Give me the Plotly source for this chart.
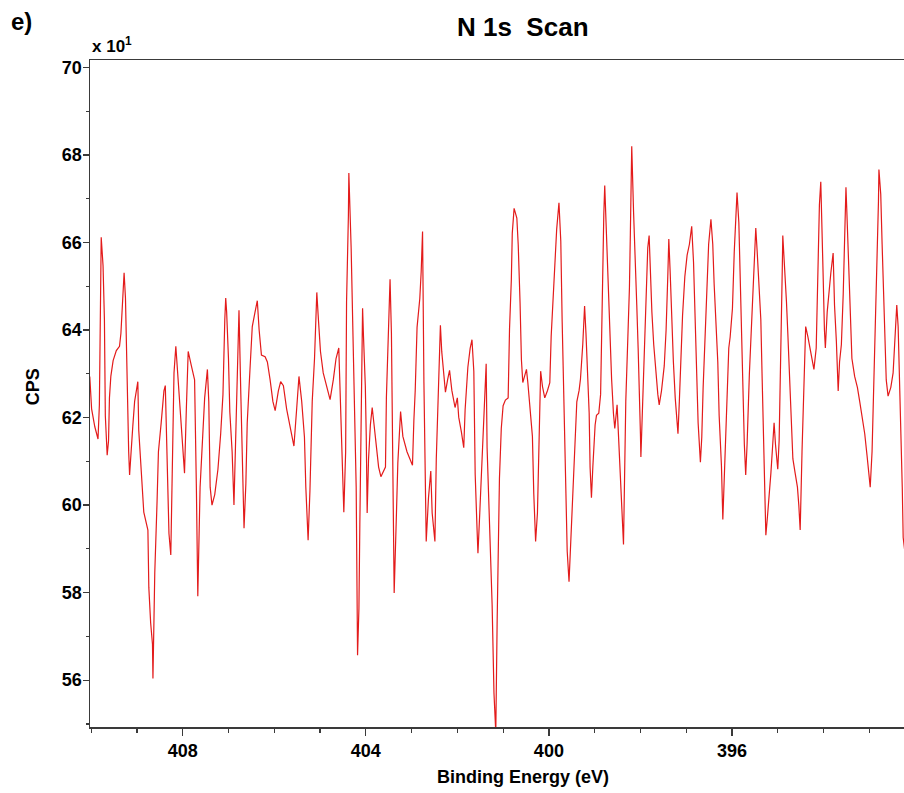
import plotly.graph_objects as go

# Binding energy (eV) and counts (CPS, in units of x10^1)
binding_energy = [
    410.03, 409.99, 409.92, 409.85, 409.82, 409.81, 409.78, 409.74, 409.71, 409.69,
    409.65, 409.62, 409.60, 409.57, 409.52, 409.45, 409.38, 409.35, 409.32, 409.28,
    409.25, 409.23, 409.21, 409.18, 409.16, 409.12, 409.09, 409.05, 408.98, 408.96,
    408.92, 408.85, 408.76, 408.74, 408.70, 408.66, 408.65, 408.61, 408.56, 408.53,
    408.47, 408.41, 408.38, 408.34, 408.30, 408.26, 408.23, 408.19, 408.15, 408.10,
    408.04, 407.99, 407.96, 407.92, 407.88, 407.81, 407.74, 407.70, 407.67, 407.62,
    407.57, 407.52, 407.46, 407.43, 407.40, 407.36, 407.30, 407.23, 407.17, 407.12,
    407.08, 407.06, 407.04, 407.00, 406.97, 406.92, 406.88, 406.84, 406.80, 406.77,
    406.73, 406.70, 406.66, 406.62, 406.59, 406.53, 406.48, 406.42, 406.37, 406.33,
    406.28, 406.20, 406.15, 406.09, 406.03, 405.98, 405.91, 405.86, 405.80, 405.73,
    405.66, 405.57, 405.51, 405.46, 405.40, 405.34, 405.31, 405.26, 405.22, 405.17,
    405.12, 405.07, 405.04, 404.99, 404.93, 404.85, 404.78, 404.71, 404.65, 404.59,
    404.55, 404.51, 404.48, 404.44, 404.42, 404.38, 404.37, 404.32, 404.27, 404.21,
    404.18, 404.15, 404.13, 404.10, 404.07, 404.05, 404.01, 403.99, 403.97, 403.94,
    403.90, 403.86, 403.83, 403.78, 403.72, 403.67, 403.57, 403.55, 403.52, 403.47,
    403.44, 403.41, 403.39, 403.38, 403.33, 403.30, 403.24, 403.19, 403.10, 402.98,
    402.95, 402.92, 402.88, 402.82, 402.79, 402.76, 402.73, 402.70, 402.68, 402.63,
    402.58, 402.55, 402.49, 402.46, 402.42, 402.39, 402.37, 402.34, 402.30, 402.26,
    402.21, 402.17, 402.12, 402.05, 402.00, 401.97, 401.91, 401.86, 401.83, 401.77,
    401.72, 401.68, 401.64, 401.61, 401.57, 401.55, 401.51, 401.46, 401.42, 401.39,
    401.37, 401.35, 401.31, 401.27, 401.24, 401.20, 401.16, 401.13, 401.11, 401.08,
    401.04, 401.00, 400.95, 400.89, 400.86, 400.82, 400.80, 400.76, 400.70, 400.67,
    400.63, 400.60, 400.57, 400.52, 400.49, 400.46, 400.41, 400.36, 400.33, 400.29,
    400.25, 400.22, 400.18, 400.14, 400.09, 400.03, 399.98, 399.95, 399.91, 399.87,
    399.83, 399.78, 399.74, 399.71, 399.67, 399.63, 399.60, 399.56, 399.51, 399.47,
    399.44, 399.39, 399.34, 399.31, 399.26, 399.22, 399.19, 399.16, 399.12, 399.10,
    399.07, 399.04, 398.99, 398.96, 398.91, 398.87, 398.83, 398.80, 398.78, 398.75,
    398.71, 398.67, 398.63, 398.59, 398.56, 398.51, 398.46, 398.42, 398.40, 398.37,
    398.34, 398.32, 398.28, 398.24, 398.22, 398.19, 398.15, 398.11, 398.08, 398.05,
    398.02, 398.00, 397.99, 397.95, 397.91, 397.88, 397.84, 397.81, 397.78, 397.75,
    397.71, 397.66, 397.62, 397.59, 397.54, 397.48, 397.44, 397.40, 397.38, 397.35,
    397.32, 397.28, 397.24, 397.20, 397.18, 397.15, 397.11, 397.08, 397.03, 396.98,
    396.93, 396.88, 396.84, 396.81, 396.77, 396.74, 396.69, 396.66, 396.63, 396.59,
    396.55, 396.51, 396.46, 396.42, 396.39, 396.35, 396.31, 396.28, 396.23, 396.20,
    396.15, 396.12, 396.07, 396.04, 395.99, 395.95, 395.91, 395.89, 395.85, 395.82,
    395.79, 395.76, 395.73, 395.70, 395.67, 395.62, 395.58, 395.54, 395.50, 395.48,
    395.45, 395.41, 395.37, 395.34, 395.31, 395.29, 395.26, 395.23, 395.19, 395.15,
    395.12, 395.08, 395.05, 395.00, 394.97, 394.94, 394.92, 394.90, 394.89, 394.85,
    394.81, 394.78, 394.74, 394.70, 394.67, 394.62, 394.57, 394.54, 394.51, 394.47,
    394.43, 394.41, 394.39, 394.34, 394.27, 394.21, 394.16, 394.14, 394.11, 394.09,
    394.06, 394.04, 394.01, 393.98, 393.96, 393.92, 393.89, 393.84, 393.79, 393.76,
    393.72, 393.68, 393.65, 393.61, 393.57, 393.54, 393.51, 393.49, 393.45, 393.41,
    393.38, 393.32, 393.26, 393.21, 393.16, 393.10, 393.05, 393.01, 392.98, 392.94,
    392.90, 392.87, 392.83, 392.80, 392.79, 392.75, 392.72, 392.69, 392.66, 392.63,
    392.59, 392.53, 392.48, 392.45, 392.42, 392.40, 392.37, 392.34, 392.30, 392.28,
    392.26, 392.22,
]

cps_x10 = [
    62.94, 62.20, 61.79, 61.51, 62.29, 63.84, 66.12, 65.47, 64.24, 62.04,
    61.14, 61.47, 62.45, 62.94, 63.30, 63.53, 63.63, 63.92, 64.49, 65.31,
    64.73, 63.59, 62.45, 61.22, 60.69, 61.22, 61.80, 62.37, 62.82, 61.71,
    60.98, 59.84, 59.43, 58.12, 57.31, 56.82, 56.04, 58.45, 60.08, 61.22,
    61.88, 62.61, 62.73, 61.30, 59.35, 58.86, 60.65, 63.02, 63.63, 62.86,
    61.88, 61.22, 60.73, 62.20, 63.51, 63.18, 62.86, 60.33, 57.92, 60.41,
    61.39, 62.45, 63.10, 62.37, 60.41, 60.00, 60.24, 60.82, 61.63, 62.53,
    64.24, 64.73, 64.41, 63.35, 62.12, 61.22, 60.00, 61.63, 63.67, 64.45,
    62.53, 61.30, 59.47, 60.49, 61.88, 63.10, 64.08, 64.41, 64.67, 64.00,
    63.43, 63.39, 63.27, 62.86, 62.37, 62.16, 62.61, 62.82, 62.73, 62.20,
    61.79, 61.35, 62.20, 62.94, 62.37, 61.55, 60.41, 59.20, 60.33, 62.37,
    63.35, 64.86, 64.33, 63.51, 63.02, 62.69, 62.41, 62.86, 63.35, 63.59,
    62.20, 61.22, 59.84, 61.22, 64.65, 66.61, 67.59, 65.88, 63.67, 60.41,
    56.57, 57.63, 59.56, 61.57, 64.50, 63.85, 62.71, 61.57, 59.82, 61.05,
    61.83, 62.23, 61.92, 61.40, 60.87, 60.65, 60.87, 62.45, 63.50, 65.16,
    63.93, 61.57, 59.21, 57.99, 59.82, 60.96, 62.14, 61.57, 61.22, 60.91,
    61.92, 62.62, 64.06, 64.72, 65.33, 66.25, 62.80, 60.43, 59.17, 60.17,
    60.78, 59.82, 59.17, 61.05, 62.27, 63.50, 64.11, 63.50, 62.97, 62.58,
    62.88, 63.08, 62.62, 62.23, 62.45, 62.01, 61.66, 61.31, 62.18, 63.15,
    63.58, 63.78, 63.06, 60.70, 59.47, 58.90, 59.82, 61.13, 62.18, 62.88,
    63.23, 61.31, 60.00, 58.86, 57.72, 55.71, 54.80, 57.37, 58.95, 60.61,
    61.75, 62.27, 62.40, 62.45, 64.02, 65.16, 66.21, 66.78, 66.56, 65.95,
    64.63, 63.32, 62.80, 62.97, 63.10, 62.80, 62.27, 61.57, 60.26, 59.17,
    59.82, 61.57, 63.06, 62.71, 62.45, 62.62, 62.80, 63.85, 64.63, 65.68,
    66.30, 66.91, 66.03, 64.20, 62.45, 60.26, 58.95, 58.25, 59.56, 60.26,
    61.40, 62.36, 62.62, 62.88, 63.67, 64.55, 63.93, 62.97, 62.10, 60.87,
    60.17, 60.87, 61.83, 62.05, 62.10, 62.53, 65.25, 66.65, 67.30, 66.39,
    65.60, 64.20, 62.88, 62.10, 61.75, 62.29, 61.22, 60.33, 59.59, 59.10,
    61.06, 62.37, 63.67, 64.98, 66.20, 68.20, 66.69, 65.63, 64.57, 63.59,
    62.61, 61.63, 61.10, 62.29, 63.67, 64.73, 65.88, 66.16, 65.14, 64.41,
    63.67, 62.94, 62.53, 62.29, 62.61, 63.18, 63.99, 65.31, 66.08, 65.31,
    64.24, 63.27, 62.45, 61.88, 61.63, 62.37, 63.51, 64.33, 65.22, 65.71,
    65.96, 66.37, 65.55, 64.33, 62.86, 61.88, 60.98, 61.55, 62.69, 63.92,
    65.14, 65.96, 66.53, 65.96, 65.06, 64.16, 63.27, 62.04, 60.90, 59.67,
    61.22, 62.45, 63.59, 63.84, 64.49, 65.80, 66.69, 67.14, 66.45, 65.06,
    63.51, 62.29, 61.39, 60.69, 61.39, 63.00, 64.00, 65.06, 65.88, 66.33,
    65.80, 65.14, 64.24, 62.86, 61.39, 60.00, 59.31, 59.67, 60.16, 60.73,
    61.22, 61.88, 61.39, 60.82, 61.47, 62.86, 64.16, 65.47, 66.16, 65.47,
    64.65, 63.92, 62.86, 61.80, 61.06, 60.73, 60.41, 60.00, 59.43, 61.22,
    62.45, 63.51, 64.08, 63.84, 63.43, 63.10, 63.59, 64.65, 65.80, 66.86,
    67.39, 66.69, 65.31, 64.00, 63.59, 64.41, 64.82, 65.31, 65.76, 64.57,
    63.75, 62.61, 63.27, 63.67, 64.82, 66.04, 67.26, 66.69, 65.31, 64.00,
    63.35, 62.94, 62.69, 62.37, 62.04, 61.63, 61.14, 60.73, 60.41, 61.22,
    62.69, 64.08, 65.55, 66.94, 67.67, 67.10, 65.96, 64.90, 63.84, 62.86,
    62.49, 62.69, 63.02, 63.67, 64.24, 64.57, 64.08, 63.02, 61.63, 60.41,
    59.26, 58.90,
]

x_range = [410.025, 392.242]
y_range = [54.93, 70.17]
x_major_ticks = [408, 404, 400, 396]
x_tick_labels = ["408", "404", "400", "396"]
y_major_ticks = [56, 58, 60, 62, 64, 66, 68, 70]
y_tick_labels = ["56", "58", "60", "62", "64", "66", "68", "70"]

FONT = "Liberation Sans, Arial, sans-serif"
AXIS_COLOR = "#3a3a3a"

fig = go.Figure()
fig.add_trace(go.Scatter(
    x=binding_energy, y=cps_x10, mode="lines",
    line=dict(color="#e31b1b", width=1.2),
    hoverinfo="skip", showlegend=False,
))

fig.update_layout(
    width=904, height=793,
    margin=dict(l=90, r=0, t=60, b=66),
    paper_bgcolor="white", plot_bgcolor="white",
    font=dict(family=FONT, color="black"),
    showlegend=False,
)

fig.update_xaxes(
    range=x_range, showgrid=False, zeroline=False,
    showline=True, linecolor=AXIS_COLOR, linewidth=1.5, mirror=True,
    tickmode="array", tickvals=x_major_ticks, ticktext=x_tick_labels,
    ticks="outside", ticklen=7, tickwidth=1.3, tickcolor=AXIS_COLOR,
    tickfont=dict(family=FONT, size=18, color="black", weight="bold"),
    minor=dict(dtick=1, tick0=396, ticks="outside", ticklen=4, tickwidth=1.2,
               tickcolor=AXIS_COLOR, showgrid=False),
)
fig.update_yaxes(
    range=y_range, showgrid=False, zeroline=False,
    showline=True, linecolor=AXIS_COLOR, linewidth=1.5, mirror=False,
    tickmode="array", tickvals=y_major_ticks, ticktext=y_tick_labels,
    ticks="outside", ticklen=6, tickwidth=1.3, tickcolor=AXIS_COLOR,
    ticklabelstandoff=-3,
    tickfont=dict(family=FONT, size=18, color="black", weight="bold"),
    minor=dict(dtick=1, tick0=0, ticks="outside", ticklen=3, tickwidth=1.2,
               tickcolor=AXIS_COLOR, showgrid=False),
)

annotations = [
    dict(text="<b>N 1s\u00a0\u00a0Scan</b>", x=0.532, y=1.0495, xanchor="center", yanchor="middle",
         font=dict(family=FONT, size=26, color="black")),
    dict(text="<b>e)</b>", x=-0.099, y=1.057, xanchor="left", yanchor="middle",
         font=dict(family=FONT, size=24, color="black")),
    dict(text="<b>x 10<sup>1</sup></b>", x=0.0, y=1.022, xanchor="left", yanchor="middle",
         font=dict(family=FONT, size=17, color="black")),
    dict(text="<b>CPS</b>", x=-0.0706, y=0.51, xanchor="center", yanchor="middle",
         textangle=-90, font=dict(family=FONT, size=18, color="black")),
    dict(text="<b>Binding Energy (eV)</b>", x=0.532, y=-0.075, xanchor="center", yanchor="middle",
         font=dict(family=FONT, size=18, color="black")),
]
for a in annotations:
    a.update(xref="paper", yref="paper", showarrow=False)
fig.update_layout(annotations=annotations)

fig.write_html(
    "out.html",
    config={"displayModeBar": False, "staticPlot": True},
    post_script="document.body.style.margin='0px';document.body.style.padding='0px';",
)
